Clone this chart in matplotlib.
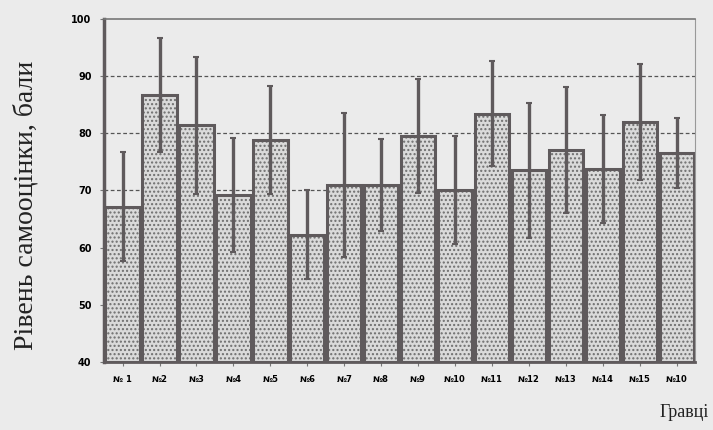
import matplotlib.pyplot as plt
import numpy as np

players = ["№ 1", "№2", "№3", "№4", "№5", "№6", "№7", "№8",
           "№9", "№10", "№11", "№12", "№13", "№14", "№15", "№10"]
means = [67.2, 86.7, 81.4, 69.2, 78.8, 62.3, 71.0, 71.0,
         79.5, 70.1, 83.4, 73.5, 77.1, 73.8, 82.0, 76.5]
errs = [9.6, 10.0, 12.0, 10.0, 9.5, 7.7, 12.6, 8.0,
        10.0, 9.4, 9.2, 11.8, 11.0, 9.4, 10.2, 6.1]

bg = "#ebebeb"
edge = "#5f5a5c"

fig = plt.figure(figsize=(7.13, 4.30), dpi=100, facecolor=bg)
ax = fig.add_axes([0.146, 0.158, 0.829, 0.798])
ax.set_facecolor(bg)

x = np.arange(len(players))

# grid lines
for yv in [60, 70, 80, 90]:
    ax.axhline(yv, color="#555555", linestyle=(0, (3, 2)), linewidth=0.9, zorder=0)

# hatched fill
ax.bar(x, np.array(means) - 40, bottom=40, width=0.93, color="#dadada",
       edgecolor="#6e6e6e", hatch="....", linewidth=0, zorder=1)
# outlines
ax.bar(x, np.array(means) - 40, bottom=40, width=0.93, fill=False,
       edgecolor=edge, linewidth=2.2, zorder=2)

ax.errorbar(x, means, yerr=errs, fmt="none", ecolor=edge, elinewidth=2.4,
            capsize=2.5, capthick=1.5, zorder=3)

ax.set_xlim(-0.5, len(players) - 0.5)
ax.set_ylim(40, 100)
ax.set_yticks([40, 50, 60, 70, 80, 90, 100])
ax.set_xticks(x)
ax.set_xticklabels(players, fontsize=6, fontweight="bold", family="DejaVu Sans")
for lab in ax.get_yticklabels():
    lab.set_fontsize(7)
    lab.set_fontweight("bold")

ax.tick_params(axis="both", length=3, color="#777777", width=0.8, pad=6)
ax.spines["left"].set_color(edge)
ax.spines["left"].set_linewidth(2.5)
ax.spines["bottom"].set_color(edge)
ax.spines["bottom"].set_linewidth(2.0)
ax.spines["top"].set_color("#777777")
ax.spines["top"].set_linewidth(1.2)
ax.spines["right"].set_color("#999999")
ax.spines["right"].set_linewidth(0.8)

fig.text(0.036, 0.522, "Рівень самооцінки, бали", rotation=90, ha="center",
         va="center", fontsize=20, family="Liberation Serif", color="#222222")
fig.text(0.925, 0.022, "Гравці", ha="left", va="bottom", fontsize=13,
         family="Liberation Serif", color="#222222")

fig.savefig("out.png", dpi=100, facecolor=bg)
